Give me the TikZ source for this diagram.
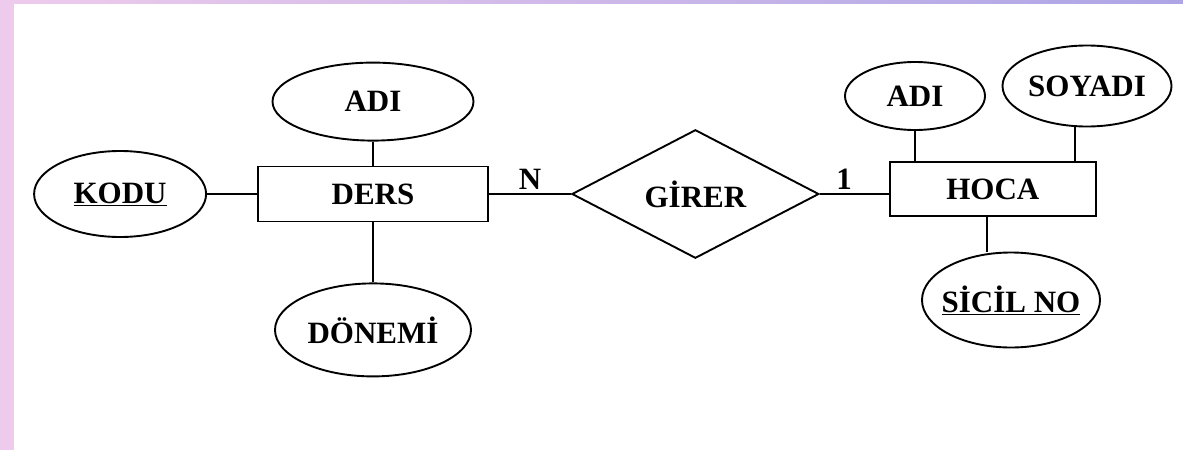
\documentclass[tikz,border=0pt]{standalone}
\usepackage{fontspec}
\setmainfont{Liberation Serif}
\usepackage{tikz}
\usetikzlibrary{positioning,shapes.geometric}
\definecolor{bandpink}{HTML}{EECBEC}
\definecolor{bandlilac}{HTML}{ADA5E6}
\newcommand{\erfont}{\fontsize{31}{33}\selectfont\bfseries}

\begin{document}
\begin{tikzpicture}[x=1pt,y=-1pt,line width=1.9pt,
  ent/.style={draw,inner sep=0pt,minimum height=55pt,font=\erfont},
  att/.style={draw,ellipse,inner sep=0pt,font=\erfont},
  rel/.style={draw,diamond,inner sep=0pt,font=\erfont},
  card/.style={font=\erfont,inner sep=4pt}]
\useasboundingbox (0,0) rectangle (1183,450);
\fill[white] (0,0) rectangle (1183,450);
\fill[bandpink] (0,0) rectangle (14,450);
\shade[left color=bandpink,right color=bandlilac] (0,0) rectangle (1183,3.5);
\node[ent,minimum width=230pt] (ders) at (373,194) {DERS};
\node[att,minimum width=172pt,minimum height=86pt,left=50pt of ders] (kodu) {\underline{KODU}};
\node[att,minimum width=201pt,minimum height=78pt,above=24pt of ders] (dadi) {ADI};
\node[att,minimum width=196pt,minimum height=93pt,below=60pt of ders] (donemi) {DÖNEMİ};
\node[rel,minimum width=247pt,minimum height=124pt,right=82pt of ders] (girer) {GİRER};
\node[ent,minimum width=206pt,minimum height=54pt,right=69pt of girer,yshift=5pt] (hoca) {HOCA};
\node[att,minimum width=140pt,minimum height=68pt] (hadi) at (915,96) {ADI};
\node[att,minimum width=169pt,minimum height=81pt] (soyadi) at (1087,86) {SOYADI};
\node[att,inner xsep=-9pt,minimum width=178pt,minimum height=95pt] (sicil) at (1011,300) {\underline{SİCİL NO}};
\draw(kodu)--(ders); \draw(dadi)--(ders); \draw(ders)--(donemi);
\draw(ders)-- node[card,above]{N} (girer);
\draw(girer.east)-- node[card,above,pos=.35]{1} (girer.east -| hoca.west);
\draw(hadi)--(hadi |- hoca.north);
\draw([xshift=-12pt]soyadi.south)--([xshift=-12pt]soyadi.south |- hoca.north);
\draw([xshift=-6pt]hoca.south)--([xshift=-6pt]hoca.south |- sicil.north);
\end{tikzpicture}
\end{document}
